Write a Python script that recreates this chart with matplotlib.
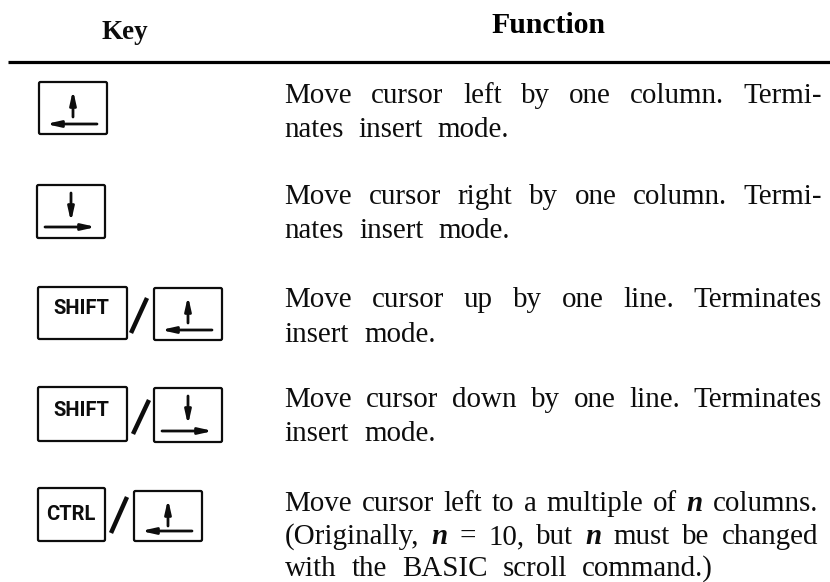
import matplotlib
matplotlib.use("Agg")
import matplotlib.pyplot as plt
from matplotlib.patches import FancyBboxPatch

W, H = 830, 582
headers = ["Key", "Function"]
key_labels = [None, None, "SHIFT", "SHIFT", "CTRL"]
key_arrows = ["left", "right", "left", "right", "left"]
descriptions = [
    ["Move cursor left by one column. Termi-", "nates insert mode."],
    ["Move cursor right by one column. Termi-", "nates insert mode."],
    ["Move cursor up by one line. Terminates", "insert mode."],
    ["Move cursor down by one line. Terminates", "insert mode."],
    ["Move cursor left to a multiple of $n$ columns.",
     "(Originally, $n$ = 10, but $n$ must be changed",
     "with the BASIC scroll command.)"],
]

# layout, in pixels
arrow_boxes = [(39, 82, 68, 52), (37, 185, 68, 53), (154, 288, 68, 52), (154, 388, 68, 54), (134, 491, 68, 50)]
label_boxes = [None, None, (38, 287, 89, 52), (38, 387, 89, 54), (38, 488, 67, 53)]
label_centres = [None, None, (81, 309), (81, 410), (71, 514.5)]
slashes = [None, None, ((131, 333), (147, 298)), ((133, 434), (149, 400)), ((111, 533), (127, 497))]
baselines = [[103, 137], [204, 238], [307, 342], [407, 441], [511, 544, 575.5]]
right_edges = [[822, 509], [822, 510], [822, 436], [822, 436], [818, 818, 713]]
left_edge = 284.5
INK = "#0d0d0d"

plt.rcParams["font.family"] = "Liberation Serif"
plt.rcParams["mathtext.fontset"] = "custom"
plt.rcParams["mathtext.it"] = "Liberation Serif:italic:bold"
plt.rcParams["mathtext.rm"] = "Liberation Serif"

fig = plt.figure(figsize=(W / 100, H / 100), dpi=100)
ax = fig.add_axes([0, 0, 1, 1])
ax.set_xlim(0, W)
ax.set_ylim(H, 0)
ax.axis("off")


def box(x0, y0, w, h):
    ax.add_patch(FancyBboxPatch((x0, y0), w, h, boxstyle="round,pad=0,rounding_size=1.5",
                                fc="white", ec=INK, lw=1.6))


def arrow(a, b):
    ax.annotate("", xy=b, xytext=a,
                arrowprops=dict(arrowstyle="-|>,head_length=0.8,head_width=0.18", lw=2.0,
                                color=INK, shrinkA=0, shrinkB=0))


def arrow_key(x0, y0, w, h, kind):
    box(x0, y0, w, h)
    cx = x0 + 34
    if kind == "left":
        arrow((cx, y0 + 35), (cx, y0 + 8))
        arrow((x0 + 58, y0 + h - 10), (x0 + 7, y0 + h - 10))
    else:
        arrow((cx, y0 + 8), (cx, y0 + 37))
        arrow((x0 + 8, y0 + h - 11), (x0 + 59, y0 + h - 11))


def justified(line, y, right):
    r = fig.canvas.get_renderer()
    words = line.split()
    ts = [ax.text(0, y, w, fontsize=20.9, va="baseline", ha="left", color=INK) for w in words]
    ws = [t.get_window_extent(r).width for t in ts]
    gap = (right - left_edge - sum(ws)) / (len(words) - 1)
    x = left_edge
    for t, w in zip(ts, ws):
        t.set_x(x)
        x += w + gap


ax.text(125, 39, headers[0], fontsize=19.5, fontweight="bold", ha="center", va="baseline", color=INK)
ax.text(548, 33, headers[1], fontsize=21.4, fontweight="bold", ha="center", va="baseline", color="black")
ax.plot([8, W], [61.5, 61.5], color="black", lw=2.3, solid_capstyle="butt")

for i, lines in enumerate(descriptions):
    arrow_key(*arrow_boxes[i], key_arrows[i])
    if key_labels[i]:
        box(*label_boxes[i])
        ax.text(*label_centres[i], key_labels[i], fontsize=14.5, family="Roboto", fontweight="bold",
                ha="center", va="center", color=INK)
        (xa, ya), (xb, yb) = slashes[i]
        ax.plot([xa, xb], [ya, yb], color=INK, lw=3.2, solid_capstyle="butt")
    for line, y, right in zip(lines, baselines[i], right_edges[i]):
        justified(line, y, right)

fig.savefig("out.png", dpi=100)
